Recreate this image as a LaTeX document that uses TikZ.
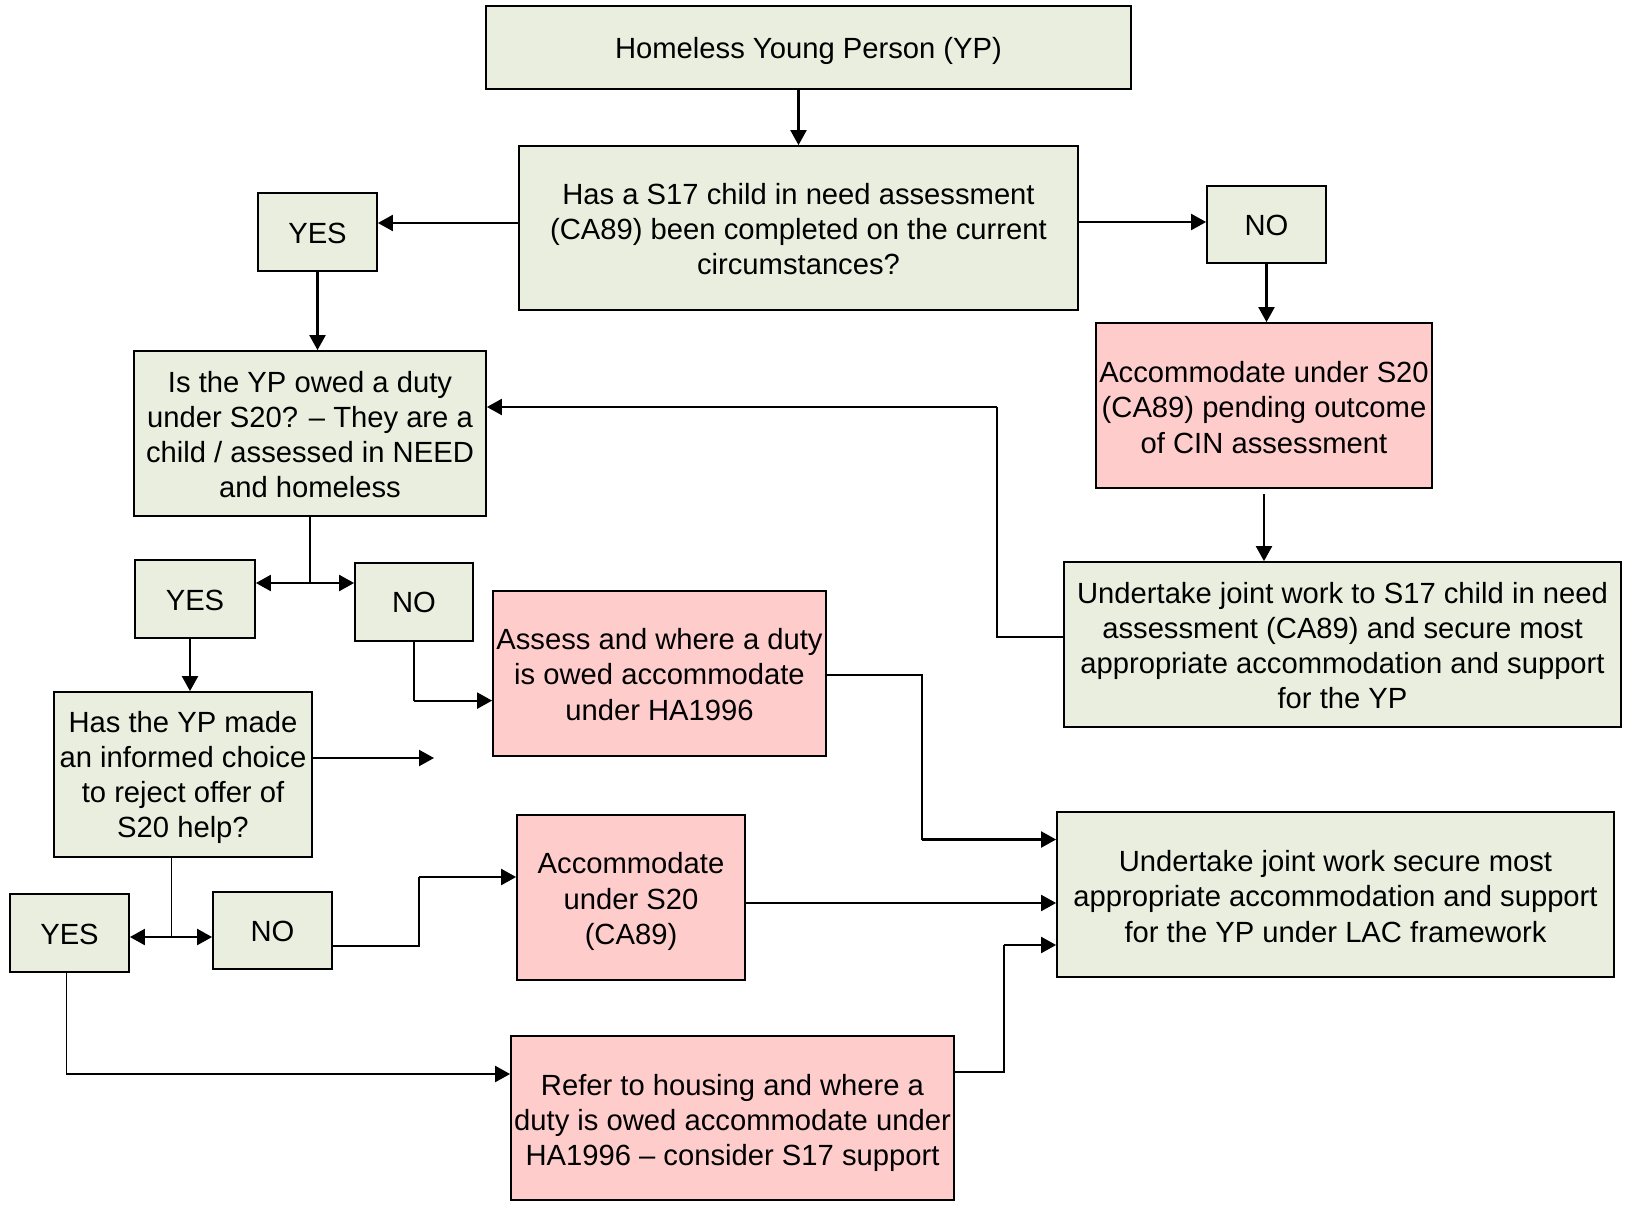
\documentclass[tikz,border=0pt]{standalone}
\usepackage{fontspec}
\setmainfont{Liberation Sans}
\usetikzlibrary{arrows.meta,calc}
\definecolor{boxgreen}{RGB}{234,238,222}
\definecolor{boxpink}{RGB}{255,204,204}
\tikzset{
  box/.style={draw=black, line width=0.9pt, fill=boxgreen, inner sep=0pt},
  pbox/.style={box, fill=boxpink},
  txt/.style={align=center, inner sep=0pt, font=\fontsize{14.6}{17.6}\selectfont},
  sz/.style 2 args={minimum width=#1*0.5pt, minimum height=#2*0.5pt},
  arr/.style={line width=1.1pt, -{Triangle[length=7.5pt,width=8pt]}},
  darr/.style={line width=1.1pt, {Triangle[length=7.5pt,width=8pt]}-{Triangle[length=7.5pt,width=8pt]}},
  thinline/.style={line width=0.55pt},
}
% name, style, width, height, x, y, downward text shift (px), text
\newcommand\flowbox[8]{%
  \node[#2, sz={#3}{#4}] (#1) at (#5,#6) {};
  \node[txt] (#1-t) at ([yshift=-#7*0.5pt]#1.center) {#8};}
\begin{document}
\begin{tikzpicture}[x=0.5pt,y=-0.5pt]
\useasboundingbox (0,0) rectangle (1627,1206);
% nodes
\flowbox{top}{box}{645}{83}{808.5}{47.5}{3}{Homeless Young Person (YP)}
\flowbox{q1}{box}{559}{164}{798.5}{228}{1}{Has a S17 child in need assessment\\(CA89) been completed on the current\\circumstances?}
\flowbox{yes1}{box}{119}{78}{317.5}{232}{1}{YES}
\flowbox{no1}{box}{119}{77}{1266.5}{224.5}{1}{NO}
\flowbox{p1}{pbox}{336}{165}{1264}{405.5}{2}{Accommodate under S20\\(CA89) pending outcome\\of CIN assessment}
\flowbox{q2}{box}{352}{165}{310}{433.5}{1}{Is the YP owed a duty\\under S20? – They are a\\child / assessed in NEED\\and homeless}
\flowbox{s17}{box}{557}{165}{1342.5}{644.5}{1}{Undertake joint work to S17 child in need\\assessment (CA89) and secure most\\appropriate accommodation and support\\for the YP}
\flowbox{yes2}{box}{120}{78}{195}{599}{1}{YES}
\flowbox{no2}{box}{118}{78}{414}{602}{0}{NO}
\flowbox{assess}{pbox}{333}{165}{659.5}{673.5}{1}{Assess and where a duty\\is owed accommodate\\under HA1996}
\flowbox{q3}{box}{258}{165}{183}{774.5}{3}{Has the YP made\\an informed choice\\to reject offer of\\S20 help?}
\flowbox{acc}{pbox}{228}{165}{631}{897.5}{4}{Accommodate\\under S20\\(CA89)}
\flowbox{lac}{box}{557}{165}{1335.5}{894.5}{2}{Undertake joint work secure most\\appropriate accommodation and support\\for the YP under LAC framework}
\flowbox{yes3}{box}{119}{78}{69.5}{933}{1}{YES}
\flowbox{no3}{box}{119}{77}{272.5}{930.5}{1}{NO}
\flowbox{refer}{pbox}{443}{164}{732.5}{1118}{5}{Refer to housing and where a\\duty is owed accommodate under\\HA1996 – consider S17 support}
% helper coordinates
\coordinate (k1) at (997,407);
\coordinate (j1) at (310,583);
\coordinate (k2) at (414,700.6);
\coordinate (k3) at (922,839.5);
\coordinate (q3out) at (434,758);
\coordinate (j2) at (171.5,937);
\coordinate (k4) at (419,877);
\coordinate (k5) at (1004,945);
\coordinate (k6) at (66.4,1074);
% connectors
\draw[arr] (top.south -| q1.north) -- (q1.north);
\draw[arr] (q1.west |- 0,223) -- (yes1.east |- 0,223);
\draw[arr] (q1.east |- 0,222) -- (no1.west |- 0,222);
\draw[arr] (yes1.south) -- (yes1.south |- q2.north);
\draw[arr] (no1.south) -- (no1.south |- p1.north);
\draw[arr, shorten <=2.5pt] (p1.south) -- (p1.south |- s17.north);
\draw[thinline] (s17.west |- 0,637) -| (k1);
\draw[arr] (k1) -- (q2.east |- k1);
\draw[thinline] (q2.south) -- (j1);
\draw[darr] (yes2.east |- j1) -- (no2.west |- j1);
\draw[thinline] (no2.south) -- (k2);
\draw[arr] (k2) -- (assess.west |- k2);
\draw[thinline] (assess.east |- 0,675) -| (k3);
\draw[arr] (k3) -- (lac.west |- k3);
\draw[arr] (190,0 |- yes2.south) -- (190,0 |- q3.north);
\draw[arr] (q3.east |- q3out) -- (q3out);
\draw[thinline] (171.5,0 |- q3.south) -- (j2);
\draw[darr] (yes3.east |- j2) -- (no3.west |- j2);
\draw[thinline] (no3.east |- 0,946) -| (k4);
\draw[arr] (k4) -- (acc.west |- k4);
\draw[arr] (acc.east |- 0,903) -- (lac.west |- 0,903);
\draw[thinline] (refer.east |- 0,1072) -| (k5);
\draw[arr] (k5) -- (lac.west |- k5);
\draw[thinline] (66.4,0 |- yes3.south) -- (k6);
\draw[arr] (k6) -- (refer.west |- k6);
\end{tikzpicture}
\end{document}
